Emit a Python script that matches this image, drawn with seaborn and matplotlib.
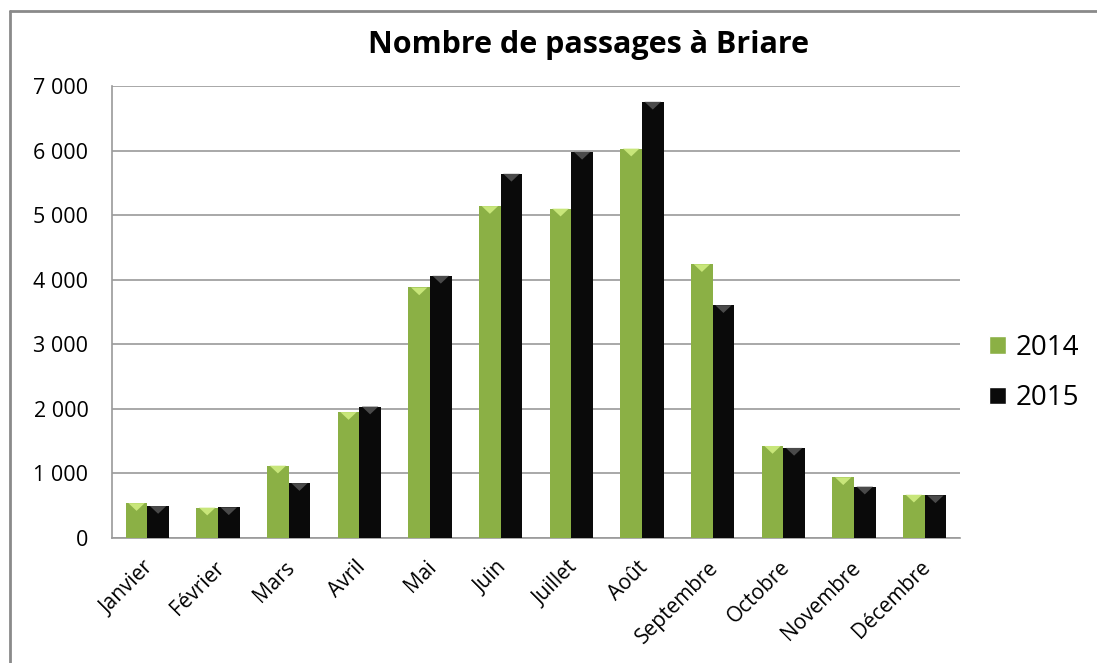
import matplotlib
matplotlib.use("Agg")
import matplotlib.pyplot as plt
import matplotlib.transforms as mtransforms
import seaborn as sns
import pandas as pd
from matplotlib.patches import Rectangle, Polygon
from matplotlib.lines import Line2D

months = ["Janvier", "Février", "Mars", "Avril", "Mai", "Juin", "Juillet",
          "Août", "Septembre", "Octobre", "Novembre", "Décembre"]
v2014 = [540, 470, 1120, 1950, 3880, 5140, 5100, 6030, 4240, 1425, 940, 670]
v2015 = [495, 475, 850, 2035, 4060, 5640, 5980, 6755, 3605, 1395, 795, 660]
years = ["2014", "2015"]
yticks = [0, 1000, 2000, 3000, 4000, 5000, 6000, 7000]

df = pd.DataFrame({
    "Mois": months * 2,
    "Passages": v2014 + v2015,
    "Année": [years[0]] * len(months) + [years[1]] * len(months),
})

sns.set_theme(style="white")
plt.rcParams["font.family"] = ["Open Sans", "DejaVu Sans"]
plt.rcParams["text.color"] = "black"
plt.rcParams["xtick.color"] = "black"
plt.rcParams["ytick.color"] = "black"

colors = {"2014": "#8bb045", "2015": "#0a0a0a"}
tri_colors = {"2014": "#c8e67a", "2015": "#4a4a4a"}

fig = plt.figure(figsize=(10.97, 6.63), dpi=100)
ax = fig.add_axes([112 / 1097, 1 - 538 / 663, (960 - 112) / 1097, (538 - 86) / 663])

sns.barplot(data=df, x="Mois", y="Passages", hue="Année", palette=colors,
            width=0.61, ax=ax, legend=False, saturation=1, edgecolor="none",
            zorder=3)

# bevel-like triangle highlight at the top of each bar
for cont, yr in zip(ax.containers, years):
    for bar in cont:
        x0 = bar.get_x()
        w = bar.get_width()
        h = bar.get_height()
        th = 120
        tri = Polygon([(x0 + w * 0.12, h), (x0 + w * 0.88, h), (x0 + w / 2, h - th)],
                      closed=True, facecolor=tri_colors[yr], edgecolor="none", zorder=4)
        ax.add_patch(tri)

ax.set_ylim(0, 7000)
ax.set_xlim(-0.5, len(months) - 0.5)
ax.set_yticks(yticks)
ax.set_yticklabels([f"{t:,}".replace(",", " ") for t in yticks], fontsize=15.5)
ax.tick_params(axis="y", pad=17, length=0)
ax.tick_params(axis="x", length=0, pad=19)
ax.set_xticks(range(len(months)))
ax.set_xticklabels(months, rotation=45, ha="right", va="center",
                   rotation_mode="anchor", fontsize=15)
offset = mtransforms.ScaledTranslation(3 / 100, 0, fig.dpi_scale_trans)
for lab in ax.get_xticklabels():
    lab.set_transform(lab.get_transform() + offset)
ax.set_xlabel("")
ax.set_ylabel("")
ax.yaxis.grid(True, color="#9a9a9a", linewidth=1.2, zorder=0)
ax.set_axisbelow(True)
for s in ["top", "right"]:
    ax.spines[s].set_visible(False)
for s in ["left", "bottom"]:
    ax.spines[s].set_color("#9a9a9a")
    ax.spines[s].set_linewidth(1.2)

fig.text(589 / 1097, 1 - 45 / 663, "Nombre de passages à Briare", ha="center",
         va="center", fontsize=22, fontweight="bold")

# legend
handles = [Rectangle((0, 0), 1, 1, facecolor=colors[y]) for y in years]
fig.legend(handles, years, loc="center left", bbox_to_anchor=(989 / 1097, 1 - 373 / 663),
           frameon=False, fontsize=20, handlelength=0.6, handleheight=0.6,
           handletextpad=0.35, labelspacing=0.8, borderaxespad=0, borderpad=0)

# outer border (top and left edges visible; frame runs past the image)
fig.add_artist(Line2D([10 / 1097, 1], [1 - 11 / 663, 1 - 11 / 663],
                      transform=fig.transFigure, color="#8a8a8a", linewidth=2))
fig.add_artist(Line2D([10 / 1097, 10 / 1097], [0, 1 - 11 / 663],
                      transform=fig.transFigure, color="#8a8a8a", linewidth=2))

fig.savefig("out.png", dpi=100)
